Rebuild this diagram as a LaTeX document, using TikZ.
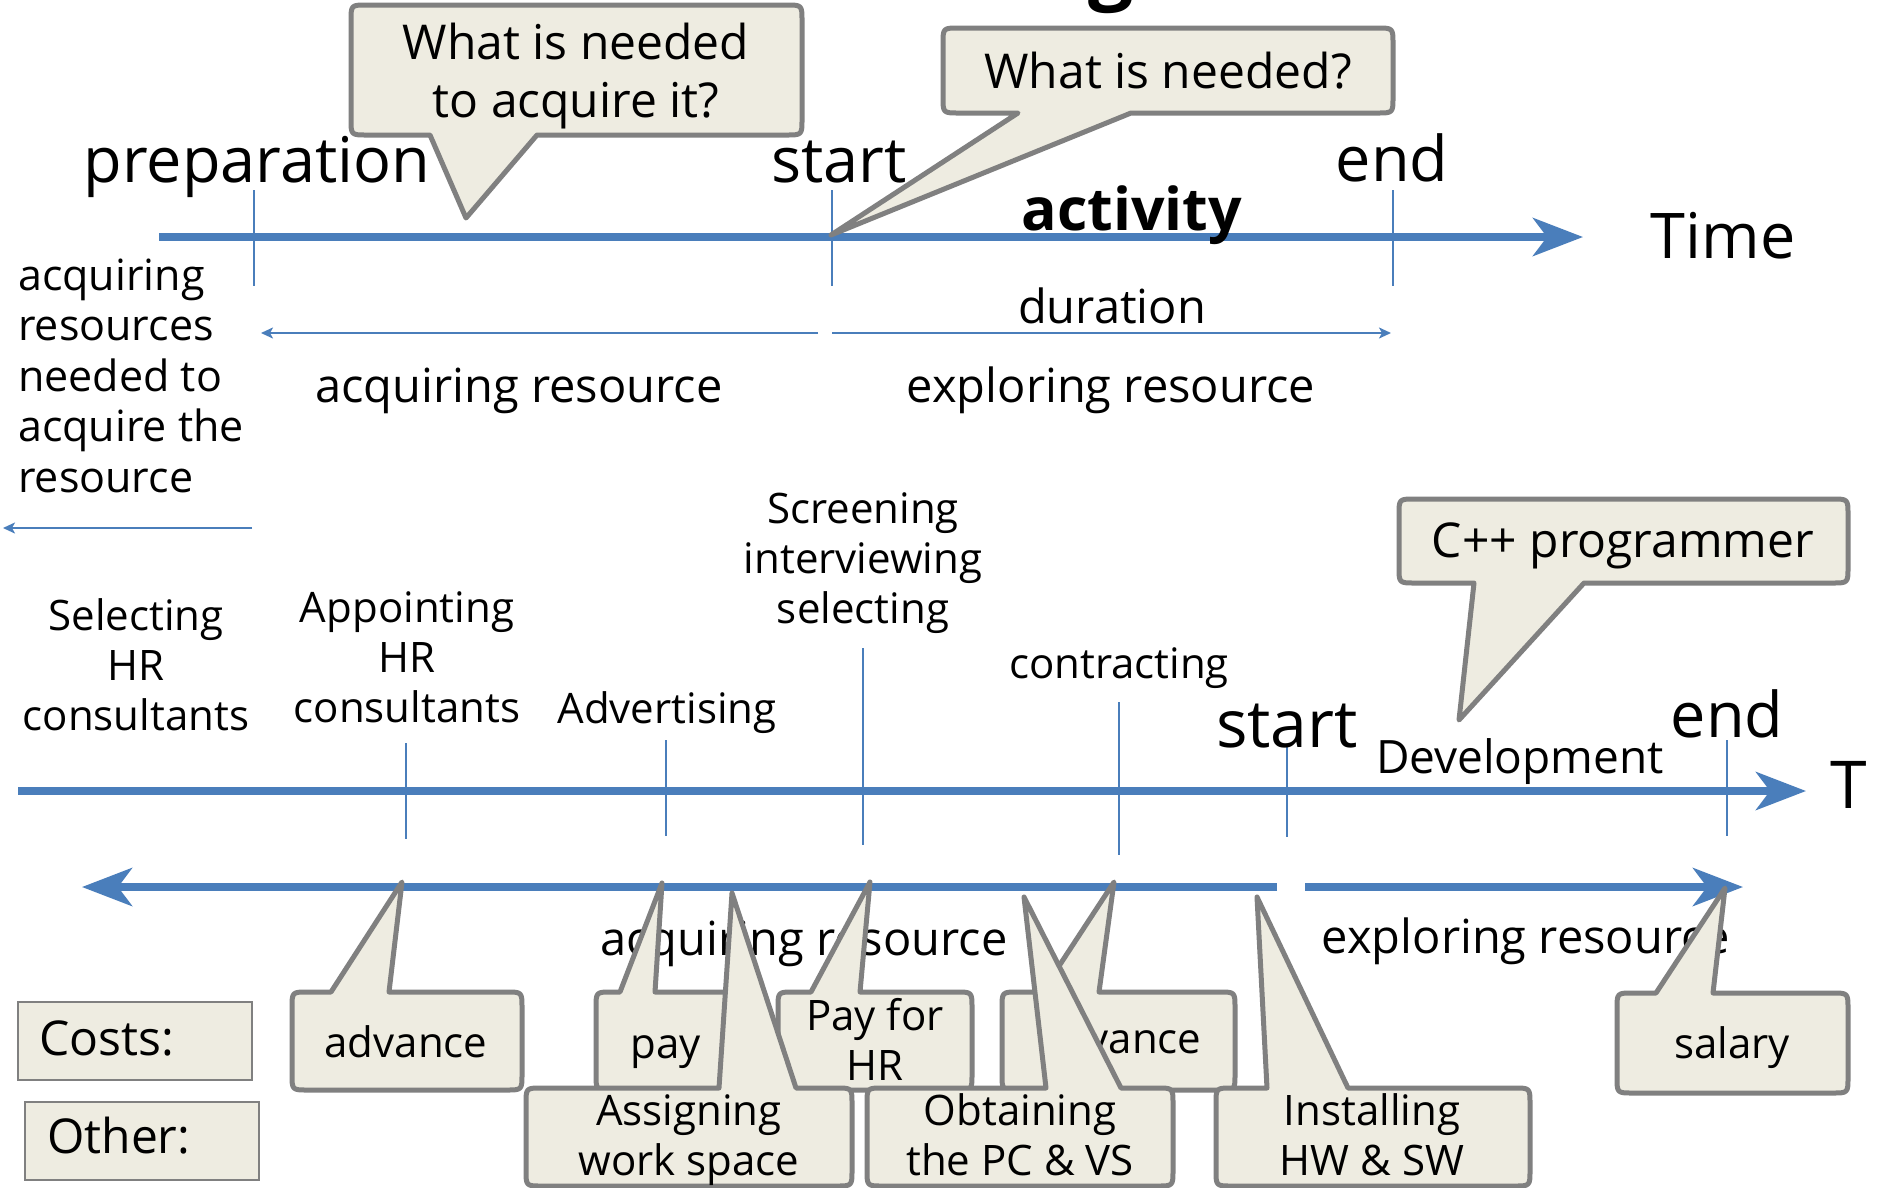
\documentclass[tikz,border=0pt]{standalone}
\usepackage{fontspec}
\setmainfont{Open Sans}
\usetikzlibrary{arrows.meta}

\definecolor{lineblue}{HTML}{4A7EBB}
\definecolor{notefill}{HTML}{EEECE1}
\definecolor{noteedge}{HTML}{808080}

% lines of text stacked in a tabular whose baseline is the first line's
\newcommand\txtlines[2][c]{\begin{tabular}[t]{@{}#1@{}}#2\end{tabular}}
\newcommand\fs[2]{\fontsize{#1}{#2}\selectfont}

% speech bubble, pointer leaving the bottom edge
% #1 x1  #2 y1  #3 x2  #4 y2  #5 left foot  #6 right foot  #7,#8 tip
\newcommand\bubbledown[8]{%
  \path[bubble] (#6,#4) -- (#7,#8) -- (#5,#4) -- ({#1+16},#4)
    .. controls (#1,#4) .. (#1,{#4-16}) -- (#1,{#2+16})
    .. controls (#1,#2) .. ({#1+16},#2) -- ({#3-16},#2)
    .. controls (#3,#2) .. (#3,{#2+16}) -- (#3,{#4-16})
    .. controls (#3,#4) .. ({#3-16},#4) -- cycle;}
% speech bubble, pointer leaving the top edge
\newcommand\bubbleup[8]{%
  \path[bubble] (#5,#2) -- (#7,#8) -- (#6,#2) -- ({#3-16},#2)
    .. controls (#3,#2) .. (#3,{#2+16}) -- (#3,{#4-16})
    .. controls (#3,#4) .. ({#3-16},#4) -- ({#1+16},#4)
    .. controls (#1,#4) .. (#1,{#4-16}) -- (#1,{#2+16})
    .. controls (#1,#2) .. ({#1+16},#2) -- cycle;}

\tikzset{
  axis/.style={draw=lineblue, line width=7.5pt,
    -{Stealth[length=50pt,width=38pt,inset=14pt]}},
  span/.style={draw=lineblue, line width=2pt,
    -{Stealth[length=12pt,width=11pt,inset=3pt]}},
  tickline/.style={draw=lineblue, line width=2pt},
  bubble/.style={fill=notefill, draw=noteedge, line width=5pt, line join=round},
  plainbox/.style={fill=notefill, draw=noteedge, line width=2.5pt},
  lbl/.style={inner sep=0pt, anchor=base, text=black},
  biglbl/.style={lbl, font=\fs{63}{70}},
  midlbl/.style={lbl, font=\fs{47}{50.5}},
  smalllbl/.style={lbl, font=\fs{42}{50}},
  notetxt/.style={lbl, font=\fs{48}{58}},
  bubbletxt/.style={lbl, font=\fs{42}{50}},
}

\begin{document}
\begin{tikzpicture}[x=1pt,y=-1pt]
\useasboundingbox (0,0) rectangle (1880,1187);
\fill[white] (0,0) rectangle (1880,1187);

% descender of the heading above
\node[lbl, font=\fs{80}{90}\bfseries] (headfrag) at (1111,-6) {g};

% ---------------- upper time line ----------------
\coordinate (ua) at (159,237);
\coordinate (ub) at (1583,237);
\draw[axis] (ua) -- (ub);

\coordinate (tp1) at (254,190);  \coordinate (tp2) at (254,286);
\coordinate (ts1) at (832,190);  \coordinate (ts2) at (832,286);
\coordinate (te1) at (1393,190); \coordinate (te2) at (1393,286);
\draw[tickline] (tp1) -- (tp2);
\draw[tickline] (ts1) -- (ts2);
\draw[tickline] (te1) -- (te2);

\coordinate (dA) at (818,333);  \coordinate (dB) at (261,333);
\coordinate (dC) at (832,333);  \coordinate (dD) at (1391,333);
\draw[span] (dA) -- (dB);
\draw[span] (dC) -- (dD);
\coordinate (pA) at (252,528);  \coordinate (pB) at (3,528);
\draw[span] (pA) -- (pB);

\node[biglbl] (prep) at (257,182) {preparation};
\node[biglbl] (ustart) at (839,182) {start};
\node[biglbl] (uend) at (1392,181) {end};
\node[lbl, font=\fs{59}{64}\bfseries] (activity) at (1132,230) {activity};
\node[biglbl] (utime) at (1723,258) {Time};
\node[midlbl] (duration) at (1112,323) {duration};
\node[midlbl] (acqA) at (519,402) {acquiring resource};
\node[midlbl] (explA) at (1111,402) {exploring resource};
\node[lbl, font=\fs{43}{50.5}, anchor=base west] (needed) at (18,290)
  {\txtlines[l]{acquiring\\resources\\needed to\\acquire the\\resource}};

% bubbles over the upper line
\coordinate (qtipA) at (466,218);
\bubbledown{351}{5}{802}{135}{430}{537}{466}{218}
\node[notetxt] (askA) at (576,59) {\txtlines{What is needed\\to acquire it?}};
\coordinate (qtipB) at (831,235);
\bubbledown{943}{28}{1393}{113}{1018}{1131}{831}{235}
\node[notetxt] (askB) at (1168,88) {What is needed?};

% ---------------- lower time line ----------------
\coordinate (la) at (18,791);
\coordinate (lb) at (1806,791);
\draw[axis] (la) -- (lb);

\draw[tickline] (406,743) -- (406,839);
\draw[tickline] (666,740) -- (666,836);
\draw[tickline] (863,648) -- (863,845);
\draw[tickline] (1119,702) -- (1119,855);
\draw[tickline] (1287,747) -- (1287,837);
\draw[tickline] (1727,740) -- (1727,836);

\node[smalllbl] (selHR) at (136,630) {\txtlines{Selecting\\HR\\consultants}};
\node[smalllbl] (appHR) at (407,622) {\txtlines{Appointing\\HR\\consultants}};
\node[smalllbl] (advert) at (667,723) {Advertising};
\node[smalllbl] (screen) at (863,523) {\txtlines{Screening\\interviewing\\selecting}};
\node[smalllbl] (contract) at (1119,678) {contracting};
\node[lbl, font=\fs{66}{70}] (lstart) at (1287,747) {start};
\node[lbl, font=\fs{46}{50}] (devel) at (1520,773) {Development};
\node[biglbl] (lend) at (1727,737) {end};
\node[lbl, font=\fs{66}{70}, anchor=base] (ltime) at (1849,808) {T};

\coordinate (cpptip) at (1459,720);
\bubbledown{1399}{499}{1848}{583}{1474}{1584}{1459}{720}
\node[notetxt] (cpp) at (1623,557) {C++ programmer};

% ---------------- acquiring / exploring arrows ----------------
\coordinate (acqS) at (1277,887);
\coordinate (acqE) at (82,887);
\draw[axis] (acqS) -- (acqE);
\coordinate (expS) at (1305,887);
\coordinate (expE) at (1743,887);
\draw[axis] (expS) -- (expE);

\node[midlbl] (acqB) at (804,955) {acquiring resource};
\node[midlbl] (explB) at (1526,953) {exploring resource};

% row captions
\draw[plainbox] (18,1002) rectangle (252,1080);
\node[lbl, anchor=base west, font=\fs{48}{58}] (costs) at (39,1055) {Costs:};
\draw[plainbox] (25,1102) rectangle (259,1180);
\node[lbl, anchor=base west, font=\fs{48}{58}] (other) at (47,1153) {Other:};

% cost bubbles
\bubbleup{292}{992}{522}{1090}{331}{389}{402}{882}
\node[bubbletxt] (advA) at (406,1057) {advance};
\bubbleup{596}{992}{736}{1090}{620}{655}{662}{883}
\node[bubbletxt] (pay) at (666,1058) {pay};
\bubbleup{778}{992}{972}{1090}{811}{860}{870}{882}
\node[bubbletxt] (payHR) at (875,1030) {\txtlines{Pay for\\HR}};
\bubbleup{1002}{992}{1235}{1090}{1042}{1099}{1114}{882}
\node[bubbletxt] (advB) at (1120,1053) {advance};
\bubbleup{1617}{993}{1848}{1093}{1656}{1713}{1725}{888}
\node[bubbletxt] (salary) at (1732,1058) {salary};

% other bubbles
\bubbleup{526}{1088}{852}{1186}{719}{796}{732}{893}
\node[bubbletxt] (assign) at (689,1125) {\txtlines{Assigning\\work space}};
\bubbleup{867}{1088}{1173}{1186}{1046}{1121}{1024}{897}
\node[bubbletxt] (obtain) at (1020,1125) {\txtlines{Obtaining\\the PC \& VS}};
\bubbleup{1216}{1088}{1530}{1186}{1267}{1348}{1257}{897}
\node[bubbletxt] (install) at (1372,1125) {\txtlines{Installing\\HW \& SW}};
\end{tikzpicture}
\end{document}
